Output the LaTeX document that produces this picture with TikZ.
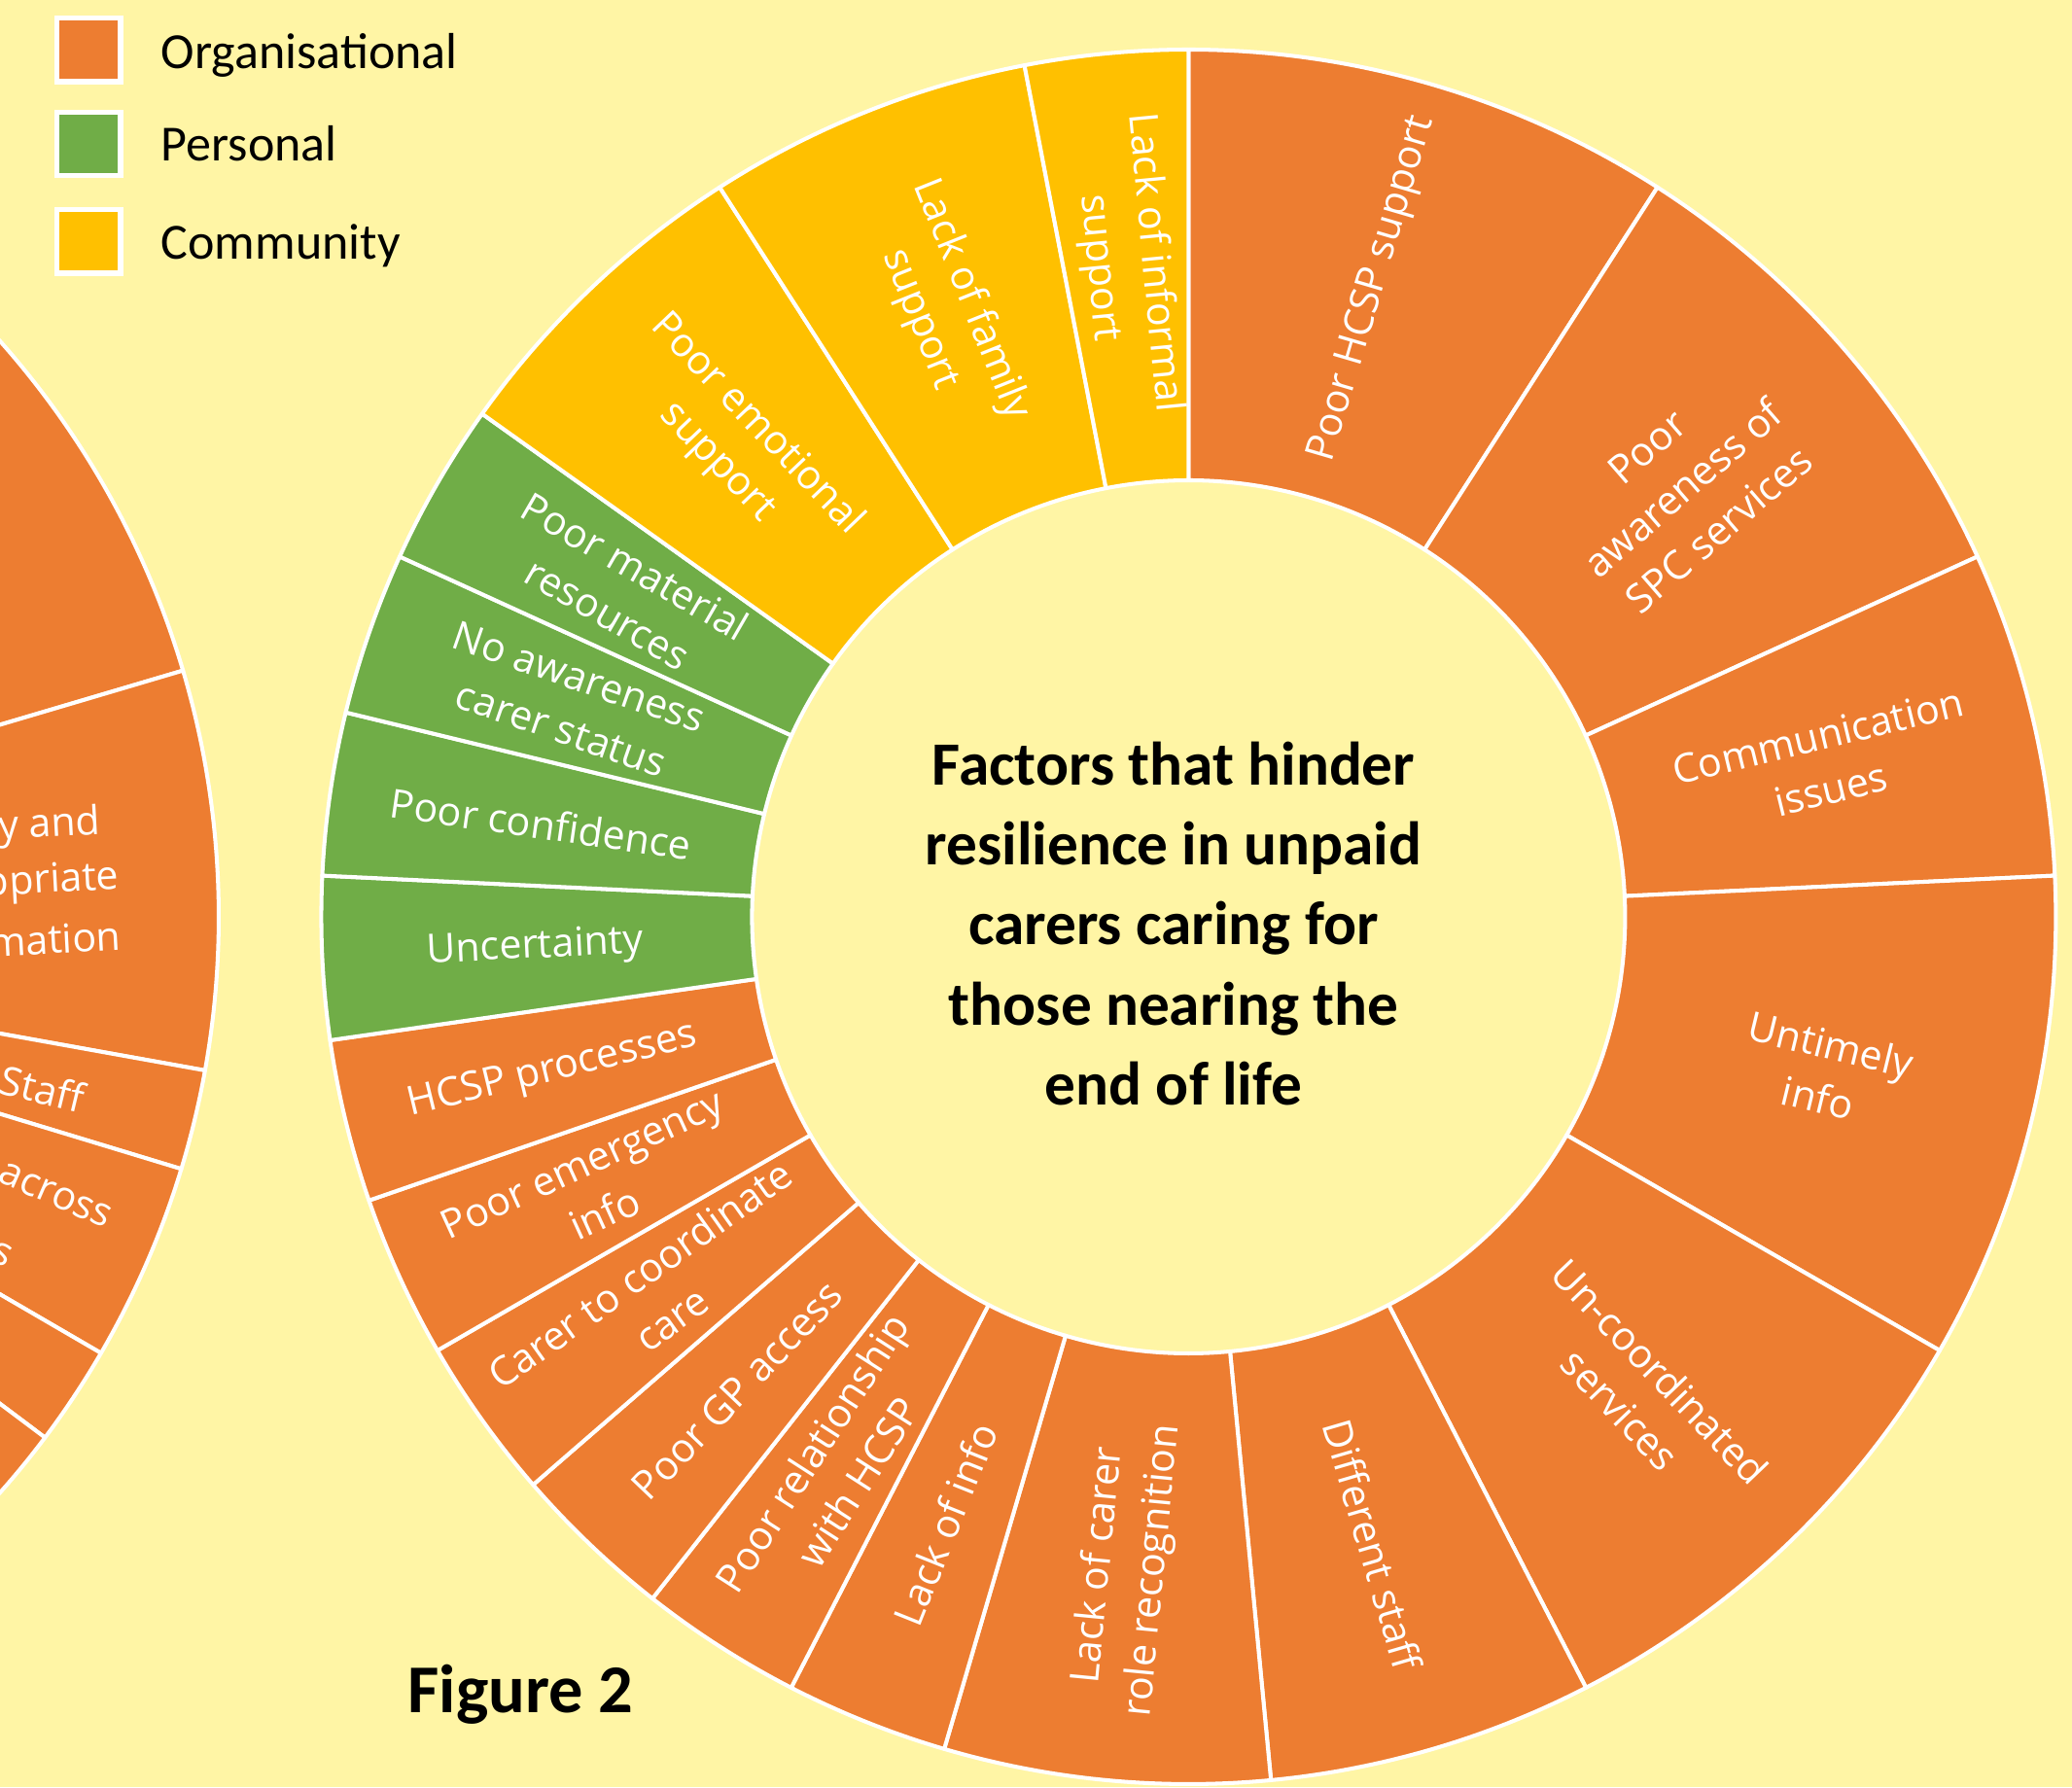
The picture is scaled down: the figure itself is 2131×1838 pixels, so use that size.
\documentclass[tikz,border=0pt]{standalone}
\usepackage{fontspec}
\setmainfont{Carlito}
\newfontfamily\ringfont{Open Sans}
\usetikzlibrary{calc}
\definecolor{orgc}{HTML}{ED7D31}
\definecolor{perc}{HTML}{70AD47}
\definecolor{comc}{HTML}{FFC000}
\definecolor{bgc}{HTML}{FFF5A5}
\begin{document}
\begin{tikzpicture}[x=0.01cm,y=0.01cm,
  seg/.style={draw=white, line width=1.15pt, line join=round},
  ringlabel/.style={text=white, font=\ringfont\fontsize{11.7}{16}\selectfont, align=center, inner sep=0pt},
  legbox/.style={draw=white, line width=1.52pt, minimum size=0.653cm, inner sep=0pt},
  legtext/.style={font=\fontsize{14.8}{17}\selectfont, anchor=base west, inner sep=0pt},
]
\useasboundingbox (0,0) rectangle (2131,1838);
\fill[bgc] (0,0) rectangle (2131,1838);
\begin{scope}
\clip (0,0) rectangle (2131,1838);
% left partial donut
\begin{scope}[shift={(-667,895)}]
\foreach \a/\b in {70/16.5, 16.5/-10.2, -10.2/-16.9, -16.9/-30.2, -30.2/-36.9, -36.9/-70} {
  \draw[seg, fill=orgc] (\a:449) arc[start angle=\a, end angle=\b, radius=449] -- (\b:892) arc[start angle=\b, end angle=\a, radius=892] -- cycle;
}
\end{scope}
\node[ringlabel, anchor=east, rotate=3] (la) at (104,991) {y and};
\node[ringlabel, anchor=east, rotate=3] (lb) at (123,934) {ppriate};
\node[ringlabel, anchor=east, rotate=3] (lc) at (125,876) {mation};
\node[ringlabel, anchor=east, rotate=-13.55] (ld) at (87,708) {Staff};
\node[ringlabel, anchor=east, rotate=-23.55] (le) at (114,584) {across};
\node[ringlabel, anchor=east, rotate=-23.55] (lf) at (12,543) {s};
\end{scope}
% main donut
\begin{scope}[shift={(1222.4,895)}]
\foreach \ka/\kb/\col/\txt [count=\i] in {
  0/3/orgc/{Poor HCSP support},
  3/6/orgc/{Poor\\awareness of\\SPC services},
  6/8/orgc/{Communication\\issues},
  8/11/orgc/{Untimely\\info},
  11/14/orgc/{Un-coordinated\\services},
  14/16/orgc/{Different staff},
  16/18/orgc/{Lack of carer\\role recognition},
  18/19/orgc/{Lack of info},
  19/20/orgc/{Poor relationship\\with HCSP},
  20/21/orgc/{Poor GP access},
  21/22/orgc/{Carer to coordinate\\care},
  22/23/orgc/{Poor emergency\\info},
  23/24/orgc/{HCSP processes},
  24/25/perc/{Uncertainty},
  25/26/perc/{Poor confidence},
  26/27/perc/{No awareness\\carer status},
  27/28/perc/{Poor material\\resources},
  28/30/comc/{Poor emotional\\support},
  30/32/comc/{Lack of family\\support},
  32/33/comc/{Lack of informal\\support}} {
  \pgfmathsetmacro\a{90-\ka*360/33}
  \pgfmathsetmacro\b{90-\kb*360/33}
  \pgfmathsetmacro\m{(\a+\b)/2}
  \pgfmathsetmacro\rot{\m < -90 ? \m+180 : \m}
  \draw[seg, fill=\col] (\a:449) arc[start angle=\a, end angle=\b, radius=449] -- (\b:892) arc[start angle=\b, end angle=\a, radius=892] -- cycle;
  \node[ringlabel, rotate=\rot] (lab\i) at (\m:673) {\txt};
}
\end{scope}
\node[font=\bfseries\fontsize{18}{23.4}\selectfont, align=center, inner sep=0pt] (ctitle) at (1207,888) {Factors that hinder\\resilience in unpaid\\carers caring for\\those nearing the\\end of life};
\node[font=\bfseries\fontsize{20}{24}\selectfont, anchor=base west, inner sep=0pt] (fig) at (419,77) {Figure 2};
% legend
\node[legbox, fill=orgc] (lgo) at (91.3,1786.5) {};
\node[legbox, fill=perc] (lgp) at (91.3,1690) {};
\node[legbox, fill=comc] (lgc) at (91.3,1589.5) {};
\node[legtext] (lto) at (165,1767.3) {Organisational};
\node[legtext] (ltp) at (165,1672.3) {Personal};
\node[legtext] (ltc) at (165,1571.3) {Community};
\end{tikzpicture}
\end{document}
